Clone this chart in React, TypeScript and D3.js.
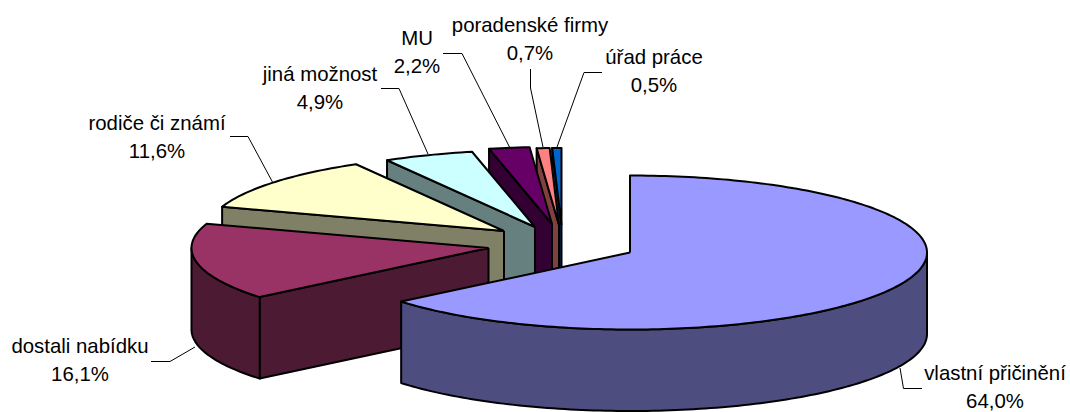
import React from "react";
import * as d3 from "d3";

const categories = ["vlastní přičinění", "dostali nabídku", "rodiče či známí", "jiná možnost", "MU", "poradenské firmy", "úřad práce"];
const values = [64.0, 16.1, 11.6, 4.9, 2.2, 0.7, 0.5];
const valueLabels = ["64,0%", "16,1%", "11,6%", "4,9%", "2,2%", "0,7%", "0,5%"];
const topColors = ["#9999FF", "#993366", "#FFFFCC", "#CCFFFF", "#660066", "#FF8080", "#0066CC"];
const apexX = [630, 488.5, 504, 535, 552, 559, 561.5];
const apexY = [252.5, 248, 231, 227, 224, 225, 225];
const labelX = [995, 80, 157, 320, 417, 530, 654];
const labelY = [380, 353, 130, 81, 45, 32, 64];
const leaders: [number, number][][] = [
  [[900, 368], [903.5, 388.5], [922, 388.5]],
  [[151, 361.5], [170, 361.5], [195, 347]],
  [[230, 136.5], [248, 136.5], [273, 183]],
  [[381, 88.5], [399, 88.5], [428, 154]],
  [[443, 53.5], [462, 53.5], [510, 148]],
  [[530.5, 69], [530.5, 88], [543, 147]],
  [[602, 72.5], [584, 72.5], [557, 147]],
];

const RX = 297, RY = 77, DEPTH = 81.5;
const LINE_GAP = 28;
const FONT = "'Liberation Sans', Arial, sans-serif";

const angle = d3.scaleLinear().domain([0, 100]).range([0, 2 * Math.PI]);

function pt(i: number, a: number, dy = 0) {
  return [apexX[i] + RX * Math.sin(a), apexY[i] - RY * Math.cos(a) + dy];
}

function arcPts(i: number, a0: number, a1: number, dy = 0) {
  const n = Math.max(2, Math.ceil((a1 - a0) / 0.02));
  return d3.range(n + 1).map((k) => pt(i, a0 + ((a1 - a0) * k) / n, dy));
}

const line = d3.line();

export default function App() {
  let acc = 0;
  const slices = values.map((v, i) => {
    const a0 = angle(acc);
    acc += v;
    const a1 = angle(acc);
    return { i, a0, a1 };
  });
  const ordered = [...slices].reverse();
  return (
    <svg width={1070} height={412} style={{ position: "absolute", left: 0, top: 0, background: "#fff" }}>
      {ordered.map(({ i, a0, a1 }) => {
        const wall = d3.color(topColors[i])!.rgb();
        const dark = d3.rgb(wall.r / 2, wall.g / 2, wall.b / 2).formatHex();
        const C = [apexX[i], apexY[i]] as [number, number];
        const Cb = [apexX[i], apexY[i] + DEPTH] as [number, number];
        const parts: string[] = [];
        if (Math.sin(a0) < -1e-6) {
          parts.push(line([C, pt(i, a0) as any, pt(i, a0, DEPTH) as any, Cb, C])!);
        }
        const lo = Math.max(a0, Math.PI / 2);
        const hi = Math.min(a1, (3 * Math.PI) / 2);
        if (hi > lo) {
          const top = arcPts(i, lo, hi);
          const bot = arcPts(i, lo, hi, DEPTH).reverse();
          parts.push(line([...top, ...bot, top[0]] as any)!);
        }
        const face = line([C, ...arcPts(i, a0, a1), C] as any)!;
        return (
          <g key={i} stroke="#000" strokeWidth={2} strokeLinejoin="round">
            {parts.map((d, k) => (
              <path key={k} d={d} fill={dark} />
            ))}
            <path d={face} fill={topColors[i]} />
          </g>
        );
      })}
      {leaders.map((l, i) => (
        <path key={i} d={line(l)!} fill="none" stroke="#000" strokeWidth={1} />
      ))}
      {categories.map((c, i) => (
        <text key={c} textAnchor="middle" fontFamily={FONT} fontSize={20.4} fill="#000">
          <tspan x={labelX[i]} y={labelY[i]}>{c}</tspan>
          <tspan x={labelX[i]} y={labelY[i] + LINE_GAP}>{valueLabels[i]}</tspan>
        </text>
      ))}
    </svg>
  );
}
